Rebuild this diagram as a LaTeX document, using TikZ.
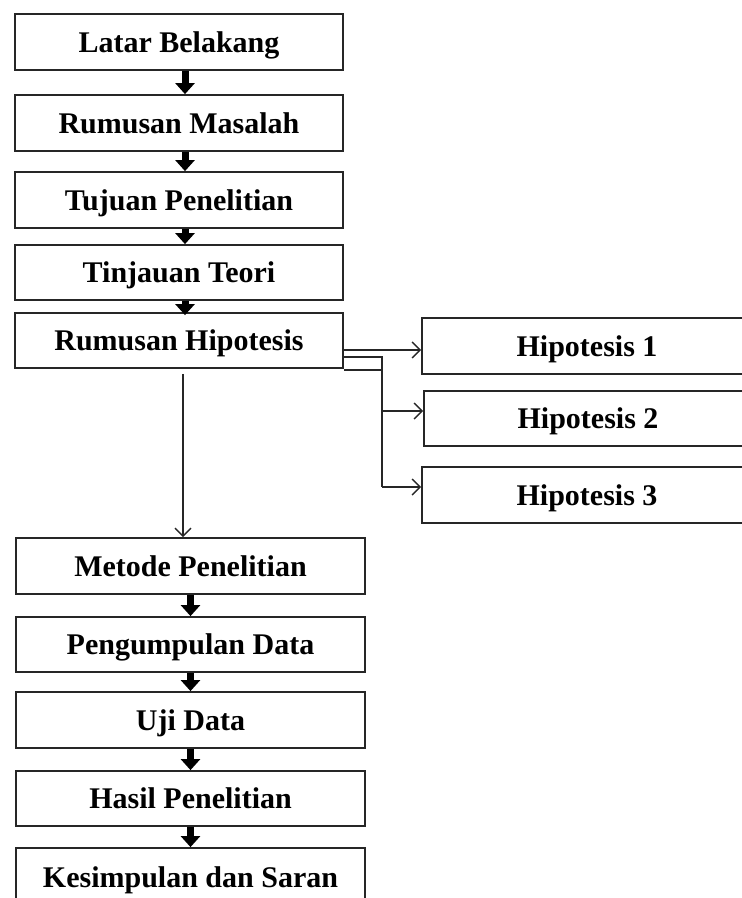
\documentclass[tikz,border=0pt]{standalone}
\usepackage{fontspec}
\setmainfont{Liberation Serif}
\usetikzlibrary{arrows.meta,calc}
\tikzset{
  box/.style={draw=black!85, line width=1.8pt, rectangle, inner sep=0pt,
    font=\bfseries\fontsize{30}{32}\selectfont, text height=24pt, text depth=4pt},
  blockarrow/.style={line width=7pt, black, -{Triangle[length=11pt,width=19pt]}},
  thinarrow/.style={line width=1.4pt, black!85, -{Straight Barb[length=8pt,width=16pt,line width=1.4pt]}},
  conn/.style={line width=1.4pt, black!85}
}
\begin{document}
\begin{tikzpicture}[x=1pt,y=-1pt]
\useasboundingbox (0,0) rectangle (742,898);
\clip (0,0) rectangle (742,898);
% upper column
\node[box, minimum width=328pt, minimum height=56pt] (lb) at (179,42) {Latar Belakang};
\node[box, minimum width=328pt, minimum height=56pt] (rm) at (179,123) {Rumusan Masalah};
\node[box, minimum width=328pt, minimum height=56pt] (tp) at (179,200) {Tujuan Penelitian};
\node[box, minimum width=328pt, minimum height=55pt] (tt) at (179,272.5) {Tinjauan Teori};
\node[box, minimum width=328pt, minimum height=55pt] (rh) at (179,340.5) {Rumusan Hipotesis};
% hypotheses
\node[box, minimum width=330pt, minimum height=56pt] (h1) at (587,346) {Hipotesis 1};
\node[box, minimum width=328pt, minimum height=55pt] (h2) at (588,418.5) {Hipotesis 2};
\node[box, minimum width=330pt, minimum height=56pt] (h3) at (587,495) {Hipotesis 3};
% lower column
\node[box, minimum width=349pt, minimum height=56pt] (mp) at (190.5,566) {Metode Penelitian};
\node[box, minimum width=349pt, minimum height=55pt] (pd) at (190.5,644.5) {Pengumpulan Data};
\node[box, minimum width=349pt, minimum height=56pt] (ud) at (190.5,720) {Uji Data};
\node[box, minimum width=349pt, minimum height=55pt] (hp) at (190.5,798.5) {Hasil Penelitian};
\node[box, minimum width=349pt, minimum height=58pt] (ks) at (190.5,877) {Kesimpulan dan Saran};
% guide coordinates
\coordinate (ax) at (185,0);
\coordinate (bx) at (190.5,0);
\coordinate (vx) at (183,0);
\coordinate (busx) at (382,0);
% block arrows upper
\draw[blockarrow] (lb.south -| ax) -- (rm.north -| ax);
\draw[blockarrow] (rm.south -| ax) -- (tp.north -| ax);
\draw[blockarrow] (tp.south -| ax) -- (tt.north -| ax);
\draw[blockarrow] (tt.south -| ax) -- ($(rh.north -| ax)+(0,3)$);
% block arrows lower
\draw[blockarrow] (mp.south -| bx) -- (pd.north -| bx);
\draw[blockarrow] (pd.south -| bx) -- (ud.north -| bx);
\draw[blockarrow] (ud.south -| bx) -- (hp.north -| bx);
\draw[blockarrow] (hp.south -| bx) -- (ks.north -| bx);
% long thin arrow
\draw[thinarrow] ($(rh.south -| vx)+(0,5)$) -- (mp.north -| vx);
% hypothesis connectors
\coordinate (p1) at ($(rh.south east)+(0,-19)$);
\coordinate (p2) at ($(rh.south east)+(0,-12)$);
\coordinate (p3) at ($(rh.south east)+(0,1)$);
\coordinate (t2) at ($(h2.west)+(0,-7.5)$);
\coordinate (t3) at ($(h3.west)+(0,-8)$);
\draw[thinarrow] (p1) -- (h1.west |- p1);
\draw[conn] (p2) -| (busx |- t2);
\draw[thinarrow] (busx |- t2) -- (t2);
\draw[conn] (p3) -| (busx |- t3);
\draw[thinarrow] (busx |- t3) -- (t3);
\end{tikzpicture}
\end{document}
